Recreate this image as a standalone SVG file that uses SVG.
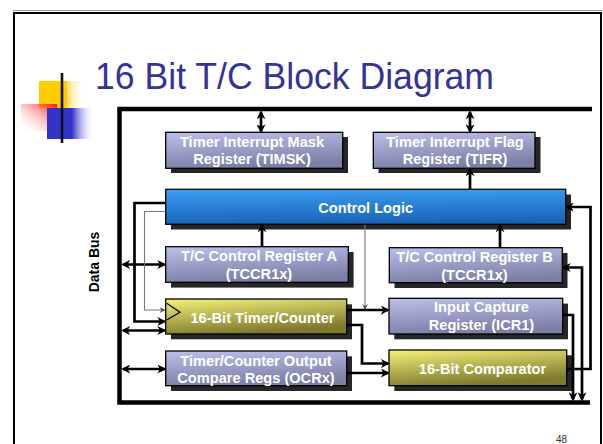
<svg xmlns="http://www.w3.org/2000/svg" width="603" height="444" viewBox="0 0 603 444">
  <style>
    .title { font-family: "Liberation Sans", Arial, sans-serif; font-size: 36px; fill: #333399; }
    .lbl { font-family: "Liberation Sans", Arial, sans-serif; font-size: 14.6px; font-weight: bold; fill: #ffffff; text-anchor: middle; }
    .bus { font-family: "Liberation Sans", Arial, sans-serif; font-size: 14px; font-weight: bold; fill: #000000; text-anchor: middle; }
    .pg { font-family: "Liberation Sans", Arial, sans-serif; font-size: 10px; fill: #333333; }
    .box { stroke: #000000; stroke-width: 1.3; }
    .shadow { fill: #262626; }
    .reg { fill: url(#gLav); }
    .ctl { fill: url(#gBlue); }
    .cnt { fill: url(#gYel); }
    .wire { fill: none; stroke: #000000; stroke-width: 2.7; stroke-linejoin: miter; }
    .thin { fill: none; stroke: #777777; stroke-width: 1.1; }
  </style>
  <defs>
    <linearGradient id="gLav" x1="0" y1="0" x2="0.25" y2="1">
      <stop offset="0" stop-color="#bcc0ea"/>
      <stop offset="1" stop-color="#7c7fa6"/>
    </linearGradient>
    <linearGradient id="gBlue" x1="0" y1="0" x2="0.1" y2="1">
      <stop offset="0" stop-color="#3d9ef5"/>
      <stop offset="1" stop-color="#1864b6"/>
    </linearGradient>
    <linearGradient id="gYel" x1="0" y1="0" x2="0.35" y2="1">
      <stop offset="0" stop-color="#f6f27a"/>
      <stop offset="1" stop-color="#7e7a2e"/>
    </linearGradient>
    <linearGradient id="gLogoY" x1="0" y1="0" x2="1" y2="0">
      <stop offset="0" stop-color="#ffcc00"/>
      <stop offset="0.6" stop-color="#ffcc00"/>
      <stop offset="0.62" stop-color="#ffdd66"/>
      <stop offset="1" stop-color="#ffffff" stop-opacity="0"/>
    </linearGradient>
    <linearGradient id="gLogoR" x1="1" y1="0" x2="0" y2="1">
      <stop offset="0" stop-color="#ff1010"/>
      <stop offset="1" stop-color="#ffffff" stop-opacity="0"/>
    </linearGradient>
    <linearGradient id="gLogoB" x1="0" y1="0" x2="1" y2="0">
      <stop offset="0" stop-color="#3333cc"/>
      <stop offset="0.52" stop-color="#3333cc"/>
      <stop offset="1" stop-color="#ffffff" stop-opacity="0"/>
    </linearGradient>
    <linearGradient id="gRule" x1="0" y1="0" x2="1" y2="0">
      <stop offset="0" stop-color="#555555"/>
      <stop offset="0.85" stop-color="#777777"/>
      <stop offset="1" stop-color="#ffffff" stop-opacity="0"/>
    </linearGradient>
    <marker id="ah" viewBox="0 0 10 10" refX="8" refY="5" markerWidth="9" markerHeight="9" markerUnits="userSpaceOnUse" orient="auto-start-reverse">
      <path d="M0,0 L10,5 L0,10 L3,5 z" fill="#000000"/>
    </marker>
    <marker id="ahs" viewBox="0 0 10 10" refX="9" refY="5" markerWidth="6" markerHeight="6" markerUnits="userSpaceOnUse" orient="auto">
      <path d="M0,0 L10,5 L0,10 L3,5 z" fill="#555555"/>
    </marker>
  </defs>

  <rect width="603" height="444" fill="#ffffff"/>

  <!-- slide frame -->
  <g id="slide-frame">
    <line x1="13" y1="10.5" x2="602" y2="10.5" stroke="#9a9a9a" stroke-width="1"/>
    <path d="M14,444 V13 H601 V444" fill="none" stroke="#000000" stroke-width="2"/>
  </g>

  <!-- title decoration -->
  <g id="logo">
    <rect x="39" y="81" width="46" height="27" fill="url(#gLogoY)"/>
    <rect x="21" y="104" width="36" height="27" fill="url(#gLogoR)"/>
    <rect x="47" y="108" width="48" height="31" fill="url(#gLogoB)"/>
    <line x1="42" y1="126.5" x2="567" y2="126.5" stroke="url(#gRule)" stroke-width="1.3"/>
    <line x1="62" y1="73" x2="62" y2="143" stroke="#111111" stroke-width="2.6"/>
  </g>

  <text class="title" x="95" y="89" textLength="399" lengthAdjust="spacingAndGlyphs">16 Bit T/C Block Diagram</text>

  <!-- data bus frame -->
  <g id="data-bus">
    <path d="M592,109 H119.5 V402.5 H590" fill="none" stroke="#000000" stroke-width="4.5"/>
    <text class="bus" transform="translate(98.5,262) rotate(-90)">Data Bus</text>
  </g>

  <!-- blocks -->
  <g id="timsk">
    <rect class="shadow" x="171" y="137" width="177" height="36"/>
    <rect class="box reg" x="165.7" y="132.3" width="177" height="36"/>
    <text class="lbl" x="252" y="146.5">Timer Interrupt Mask</text>
    <text class="lbl" x="252" y="164">Register (TIMSK)</text>
  </g>

  <g id="tifr">
    <rect class="shadow" x="378.5" y="137" width="162" height="36"/>
    <rect class="box reg" x="373.3" y="132.3" width="161.7" height="36"/>
    <text class="lbl" x="455" y="146.5">Timer Interrupt Flag</text>
    <text class="lbl" x="455" y="164">Register (TIFR)</text>
  </g>

  <g id="control-logic">
    <rect class="shadow" x="171" y="194.5" width="400" height="35"/>
    <rect class="box ctl" x="165.7" y="189.3" width="400" height="35"/>
    <text class="lbl" x="365.7" y="213">Control Logic</text>
  </g>

  <g id="tccr-a">
    <rect class="shadow" x="171" y="252" width="182.6" height="35.6"/>
    <rect class="box reg" x="165.7" y="246.7" width="182.6" height="35.6"/>
    <text class="lbl" x="259" y="260.5">T/C Control Register A</text>
    <text class="lbl" x="259" y="278.5">(TCCR1x)</text>
  </g>

  <g id="tccr-b">
    <rect class="shadow" x="394.5" y="253" width="173" height="35"/>
    <rect class="box reg" x="389.3" y="247.7" width="173" height="35"/>
    <text class="lbl" x="474.5" y="261.5">T/C Control Register B</text>
    <text class="lbl" x="474.5" y="279.5">(TCCR1x)</text>
  </g>

  <g id="timer-counter">
    <rect class="shadow" x="171" y="304.3" width="181" height="35"/>
    <rect class="box cnt" x="165.7" y="299" width="181" height="35"/>
    <path d="M166.7,303.3 L180,312.3 L166.7,320" fill="none" stroke="#000000" stroke-width="1.2"/>
    <text class="lbl" x="262.5" y="323">16-Bit Timer/Counter</text>
  </g>

  <g id="ocrx">
    <rect class="shadow" x="171" y="356.3" width="181" height="34.7"/>
    <rect class="box reg" x="165.7" y="351" width="181" height="34.7"/>
    <text class="lbl" x="256" y="365.5">Timer/Counter Output</text>
    <text class="lbl" x="256" y="383">Compare Regs (OCRx)</text>
  </g>

  <g id="icr1">
    <rect class="shadow" x="394.3" y="303.6" width="173.7" height="35.7"/>
    <rect class="box reg" x="389" y="298.3" width="173.7" height="35.7"/>
    <text class="lbl" x="481.5" y="312">Input Capture</text>
    <text class="lbl" x="481.5" y="329.7">Register (ICR1)</text>
  </g>

  <g id="comparator">
    <rect class="shadow" x="394.3" y="355.3" width="177.7" height="35.7"/>
    <rect class="box cnt" x="389" y="350" width="177.7" height="35.7"/>
    <text class="lbl" x="482.5" y="373.5">16-Bit Comparator</text>
  </g>

  <!-- connectors -->
  <g id="connectors">
    <!-- bus to interrupt registers -->
    <line class="wire" x1="261" y1="112" x2="261" y2="131.5" marker-start="url(#ah)" marker-end="url(#ah)"/>
    <line class="wire" x1="470" y1="112" x2="470" y2="131.5" marker-start="url(#ah)" marker-end="url(#ah)"/>
    <!-- into control logic / flag register -->
    <line class="wire" x1="470" y1="189" x2="470" y2="169" marker-end="url(#ah)"/>
    <line class="wire" x1="262" y1="246.5" x2="262" y2="225" marker-end="url(#ah)"/>
    <line class="wire" x1="500" y1="247.5" x2="500" y2="225" marker-end="url(#ah)"/>
    <!-- bus to left-hand registers -->
    <line class="wire" x1="123" y1="264.5" x2="164.5" y2="264.5" marker-start="url(#ah)" marker-end="url(#ah)"/>
    <line class="wire" x1="123" y1="330.5" x2="164.5" y2="330.5" marker-start="url(#ah)" marker-end="url(#ah)"/>
    <line class="wire" x1="123" y1="369" x2="164.5" y2="369" marker-start="url(#ah)" marker-end="url(#ah)"/>
    <!-- control logic to counter -->
    <path class="wire" d="M165.5,203 H134.5 V321.5 H164.5" marker-end="url(#ah)"/>
    <path class="thin" d="M165.5,211.5 H144.5 V310 H165" marker-end="url(#ahs)"/>
    <path class="thin" d="M365,224.5 V309.5" marker-end="url(#ahs)"/>
    <!-- counter outputs -->
    <line class="wire" x1="346.5" y1="310" x2="388" y2="310" marker-end="url(#ah)"/>
    <path class="wire" d="M346.5,325 H362 V363.5 H388" marker-end="url(#ah)"/>
    <line class="wire" x1="346.5" y1="373" x2="388" y2="373" marker-end="url(#ah)"/>
    <!-- right-hand return paths -->
    <path class="wire" d="M562.5,315 H573 V399.5" marker-end="url(#ah)"/>
    <path class="wire" d="M566.5,369 H590.5 V207 H566.5" marker-end="url(#ah)"/>
    <path class="wire" d="M582,399.5 V267.5 H563.5" marker-start="url(#ah)" marker-end="url(#ah)"/>
  </g>

  <text class="pg" x="556" y="442.5">48</text>
</svg>
